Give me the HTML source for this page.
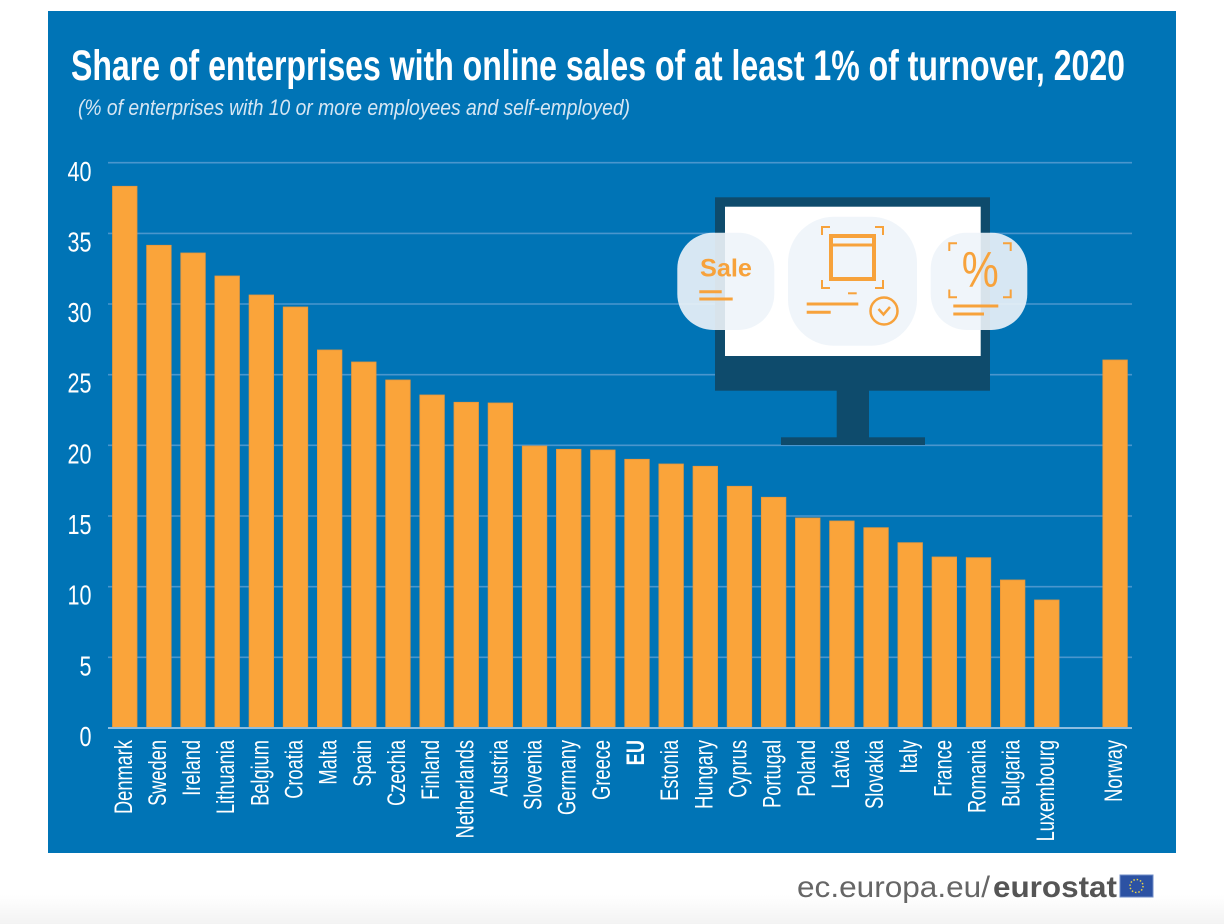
<!DOCTYPE html>
<html><head><meta charset="utf-8"><style>
html,body{margin:0;padding:0;background:#fff;}
svg{display:block;}
text{font-family:"Liberation Sans",Arial,sans-serif;}
</style></head><body>
<svg width="1224" height="924" viewBox="0 0 1224 924" xmlns="http://www.w3.org/2000/svg">
<defs>
<linearGradient id="fg" x1="0" y1="0" x2="0" y2="1">
<stop offset="0" stop-color="#ffffff"/><stop offset="1" stop-color="#f3f3f3"/>
</linearGradient>
</defs>
<rect x="0" y="0" width="1224" height="924" fill="#fff"/>
<rect x="0" y="895" width="1224" height="29" fill="url(#fg)"/>
<rect x="48" y="11" width="1128" height="842" fill="#0074b6"/>

<text x="71" y="80" font-size="43" font-weight="bold" fill="#ffffff" textLength="1054" lengthAdjust="spacingAndGlyphs">Share of enterprises with online sales of at least 1% of turnover, 2020</text>
<text x="78" y="115" font-size="22" font-style="italic" fill="#d6e6f3" textLength="552" lengthAdjust="spacingAndGlyphs">(% of enterprises with 10 or more employees and self-employed)</text>

<g stroke="#4a96cd" stroke-width="1.6">
<line x1="108" y1="162.7" x2="1132" y2="162.7"/>
<line x1="108" y1="233.4" x2="1132" y2="233.4"/>
<line x1="108" y1="304" x2="1132" y2="304"/>
<line x1="108" y1="374.7" x2="1132" y2="374.7"/>
<line x1="108" y1="445.3" x2="1132" y2="445.3"/>
<line x1="108" y1="516" x2="1132" y2="516"/>
<line x1="108" y1="586.7" x2="1132" y2="586.7"/>
<line x1="108" y1="657.3" x2="1132" y2="657.3"/>
</g>

<g font-size="28" fill="#ffffff" text-anchor="end">
<text x="91.5" y="181" textLength="24" lengthAdjust="spacingAndGlyphs">40</text>
<text x="91.5" y="251.5" textLength="24" lengthAdjust="spacingAndGlyphs">35</text>
<text x="91.5" y="322" textLength="24" lengthAdjust="spacingAndGlyphs">30</text>
<text x="91.5" y="392.7" textLength="24" lengthAdjust="spacingAndGlyphs">25</text>
<text x="91.5" y="463.3" textLength="24" lengthAdjust="spacingAndGlyphs">20</text>
<text x="91.5" y="534" textLength="24" lengthAdjust="spacingAndGlyphs">15</text>
<text x="91.5" y="604.7" textLength="24" lengthAdjust="spacingAndGlyphs">10</text>
<text x="91.5" y="675.3" textLength="12" lengthAdjust="spacingAndGlyphs">5</text>
<text x="91.5" y="746" textLength="12" lengthAdjust="spacingAndGlyphs">0</text>
</g>

<!-- monitor -->
<rect x="715" y="197.3" width="275" height="193.4" fill="#0e4b6c"/>
<rect x="725" y="206.7" width="255.7" height="149.3" fill="#ffffff"/>
<rect x="836.7" y="390" width="32.3" height="48" fill="#0e4b6c"/>
<rect x="781" y="437.3" width="144" height="7.7" fill="#0e4b6c"/>

<!-- bubbles -->
<rect x="677.3" y="232.7" width="97" height="97.3" rx="36" fill="#eef4fa" fill-opacity="0.9"/>
<rect x="788" y="216.7" width="129" height="129" rx="46" fill="#eef4fa" fill-opacity="0.9"/>
<rect x="930.7" y="232.7" width="96.6" height="97.3" rx="36" fill="#eef4fa" fill-opacity="0.9"/>

<g stroke="#f7a23b" fill="none" stroke-linecap="butt">
<text x="700" y="276.7" font-size="25" font-weight="bold" fill="#f7a23b" stroke="none" textLength="52" lengthAdjust="spacingAndGlyphs">Sale</text>
<line x1="699.3" y1="291.7" x2="721.7" y2="291.7" stroke-width="3"/>
<line x1="699.3" y1="299" x2="732.7" y2="299" stroke-width="3"/>

<rect x="831" y="236" width="43" height="43" stroke-width="4"/>
<line x1="831" y1="245" x2="874" y2="245" stroke-width="3"/>
<path d="M822 235 V227 H830 M875 227 H883 V235 M883 280 V288 H875 M830 288 H822 V280" stroke-width="2"/>
<line x1="806.7" y1="304" x2="858.3" y2="304" stroke-width="3"/>
<line x1="806.7" y1="312.3" x2="830.7" y2="312.3" stroke-width="3"/>
<line x1="848" y1="293.3" x2="856.7" y2="293.3" stroke-width="2"/>
<circle cx="884" cy="311" r="13.5" stroke-width="2.5"/>
<path d="M878.5 309 L883.5 314.5 L890 307" stroke-width="2.5"/>

<path d="M949.3 251 V243.3 H957 M1003 243.3 H1010.7 V251 M1010.7 289.5 V297.3 H1003 M957 297.3 H949.3 V289.5" stroke-width="2"/>
<text x="961.7" y="286.7" font-size="50" fill="#f7a23b" stroke="none" textLength="37" lengthAdjust="spacingAndGlyphs">%</text>
<line x1="953.3" y1="306" x2="998.3" y2="306" stroke-width="3"/>
<line x1="953.3" y1="314" x2="984" y2="314" stroke-width="3"/>
</g>

<!-- bars -->
<g fill="#faa43a" stroke="#e8973a" stroke-width="0.8">
<rect x="112.5" y="186.3" width="24.5" height="541.2"/>
<rect x="146.65" y="245.3" width="24.5" height="482.2"/>
<rect x="180.8" y="253" width="24.5" height="474.5"/>
<rect x="214.95" y="276" width="24.5" height="451.5"/>
<rect x="249.1" y="295" width="24.5" height="432.5"/>
<rect x="283.25" y="307" width="24.5" height="420.5"/>
<rect x="317.4" y="350" width="24.5" height="377.5"/>
<rect x="351.55" y="362" width="24.5" height="365.5"/>
<rect x="385.7" y="380" width="24.5" height="347.5"/>
<rect x="419.85" y="395" width="24.5" height="332.5"/>
<rect x="454" y="402.3" width="24.5" height="325.2"/>
<rect x="488.15" y="403" width="24.5" height="324.5"/>
<rect x="522.3" y="446" width="24.5" height="281.5"/>
<rect x="556.45" y="449.3" width="24.5" height="278.2"/>
<rect x="590.6" y="450" width="24.5" height="277.5"/>
<rect x="624.75" y="459.3" width="24.5" height="268.2"/>
<rect x="658.9" y="464" width="24.5" height="263.5"/>
<rect x="693.05" y="466.3" width="24.5" height="261.2"/>
<rect x="727.2" y="486.3" width="24.5" height="241.2"/>
<rect x="761.35" y="497.3" width="24.5" height="230.2"/>
<rect x="795.5" y="518" width="24.5" height="209.5"/>
<rect x="829.65" y="521" width="24.5" height="206.5"/>
<rect x="863.8" y="527.7" width="24.5" height="199.8"/>
<rect x="897.95" y="542.7" width="24.5" height="184.8"/>
<rect x="932.1" y="557" width="24.5" height="170.5"/>
<rect x="966.25" y="557.7" width="24.5" height="169.8"/>
<rect x="1000.4" y="580" width="24.5" height="147.5"/>
<rect x="1034.55" y="600" width="24.5" height="127.5"/>
<rect x="1102.85" y="360" width="24.5" height="367.5"/>
</g>
<line x1="108" y1="728" x2="1132" y2="728" stroke="#8cbde0" stroke-width="2"/>

<!-- x labels -->
<g font-size="25" fill="#ffffff" text-anchor="end">
<text transform="translate(131.75,740) rotate(-90) scale(0.73,1)">Denmark</text>
<text transform="translate(165.9,740) rotate(-90) scale(0.73,1)">Sweden</text>
<text transform="translate(200.05,740) rotate(-90) scale(0.73,1)">Ireland</text>
<text transform="translate(234.2,740) rotate(-90) scale(0.73,1)">Lithuania</text>
<text transform="translate(268.35,740) rotate(-90) scale(0.73,1)">Belgium</text>
<text transform="translate(302.5,740) rotate(-90) scale(0.73,1)">Croatia</text>
<text transform="translate(336.65,740) rotate(-90) scale(0.73,1)">Malta</text>
<text transform="translate(370.8,740) rotate(-90) scale(0.73,1)">Spain</text>
<text transform="translate(404.95,740) rotate(-90) scale(0.73,1)">Czechia</text>
<text transform="translate(439.1,740) rotate(-90) scale(0.73,1)">Finland</text>
<text transform="translate(473.25,740) rotate(-90) scale(0.73,1)">Netherlands</text>
<text transform="translate(507.4,740) rotate(-90) scale(0.73,1)">Austria</text>
<text transform="translate(541.55,740) rotate(-90) scale(0.73,1)">Slovenia</text>
<text transform="translate(575.7,740) rotate(-90) scale(0.73,1)">Germany</text>
<text transform="translate(609.85,740) rotate(-90) scale(0.73,1)">Greece</text>
<text transform="translate(644,740) rotate(-90) scale(0.73,1)" font-weight="bold">EU</text>
<text transform="translate(678.15,740) rotate(-90) scale(0.73,1)">Estonia</text>
<text transform="translate(712.3,740) rotate(-90) scale(0.73,1)">Hungary</text>
<text transform="translate(746.45,740) rotate(-90) scale(0.73,1)">Cyprus</text>
<text transform="translate(780.6,740) rotate(-90) scale(0.73,1)">Portugal</text>
<text transform="translate(814.75,740) rotate(-90) scale(0.73,1)">Poland</text>
<text transform="translate(848.9,740) rotate(-90) scale(0.73,1)">Latvia</text>
<text transform="translate(883.05,740) rotate(-90) scale(0.73,1)">Slovakia</text>
<text transform="translate(917.2,740) rotate(-90) scale(0.73,1)">Italy</text>
<text transform="translate(951.35,740) rotate(-90) scale(0.73,1)">France</text>
<text transform="translate(985.5,740) rotate(-90) scale(0.73,1)">Romania</text>
<text transform="translate(1019.65,740) rotate(-90) scale(0.73,1)">Bulgaria</text>
<text transform="translate(1053.8,740) rotate(-90) scale(0.73,1)">Luxembourg</text>
<text transform="translate(1122.1,740) rotate(-90) scale(0.73,1)">Norway</text>
</g>

<!-- footer -->
<text x="797" y="897" font-size="30" fill="#666666" textLength="193" lengthAdjust="spacingAndGlyphs">ec.europa.eu/</text>
<text x="993" y="897" font-size="30" font-weight="bold" fill="#555555" textLength="124" lengthAdjust="spacingAndGlyphs">eurostat</text>
<rect x="1120" y="875" width="33" height="22" fill="#2c52a3" stroke="#6f8cc7" stroke-width="1"/>
<circle cx="1136.5" cy="886" r="6.5" fill="none" stroke="#e8d34a" stroke-width="1.5" stroke-dasharray="1.5 1.9"/>
</svg>
</body></html>
